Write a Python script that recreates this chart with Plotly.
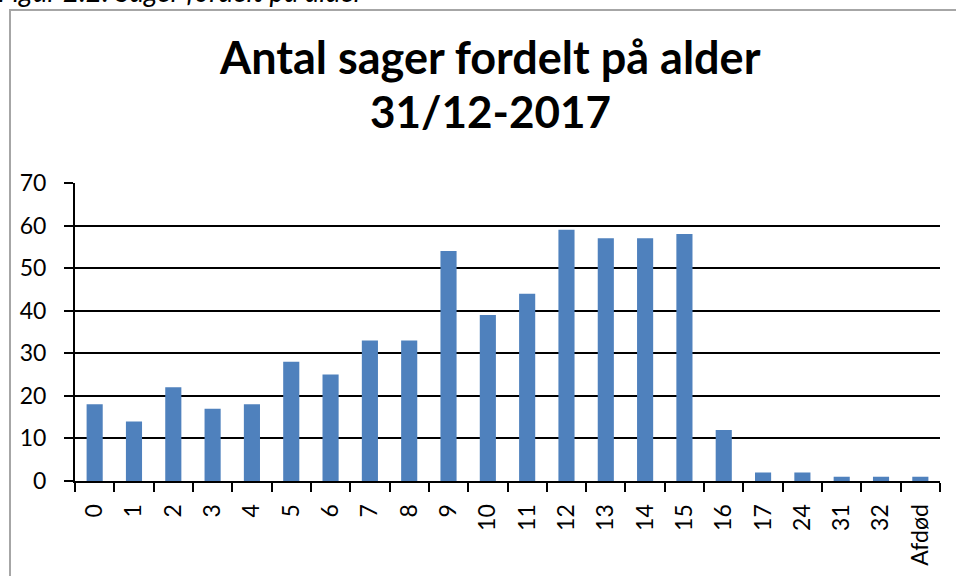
import plotly.graph_objects as go

categories = ["0", "1", "2", "3", "4", "5", "6", "7", "8", "9", "10", "11", "12", "13", "14", "15", "16", "17", "24", "31", "32", "Afdød"]
values = [18, 14, 22, 17, 18, 28, 25, 33, 33, 54, 39, 44, 59, 57, 57, 58, 12, 2, 2, 1, 1, 1]
y_ticks = [0, 10, 20, 30, 40, 50, 60, 70]

W, H = 956, 576
L, R, T, B = 75, 16, 183, 95
pw, ph = W - L - R, H - T - B

def px(x):
    return (x - L) / pw

def py(y):
    return (H - B - y) / ph

fig = go.Figure(go.Bar(x=categories, y=values, marker=dict(color="#4f81bd", line=dict(width=0)),
                       width=0.41))

font = "Lato, 'Open Sans', sans-serif"
fig.update_layout(
    width=W, height=H,
    margin=dict(l=L, r=R, t=T, b=B, autoexpand=False),
    paper_bgcolor="white", plot_bgcolor="white",
    showlegend=False,
    font=dict(family=font, color="black", size=23),
    xaxis=dict(type="category", tickson="boundaries", ticks="outside", ticklen=9, tickwidth=2,
               tickcolor="black", showline=True, linecolor="black", linewidth=2,
               tickangle=-90, tickfont=dict(size=23, family=font), showgrid=False,
               ticklabelstandoff=12),
    yaxis=dict(range=[0, 70], tickvals=y_ticks, ticks="outside", ticklen=9, tickwidth=2,
               tickcolor="black", showline=True, linecolor="black", linewidth=2,
               showgrid=True, gridcolor="black", gridwidth=2, zeroline=False,
               tickfont=dict(size=23, family=font), ticklabelstandoff=13),
    shapes=[dict(type="rect", xref="paper", yref="paper",
                 x0=px(10), x1=px(W + 20), y0=py(H + 20), y1=py(10),
                 line=dict(color="#a6a6a6", width=2), layer="below")],
    annotations=[
        dict(text="<i>Figur 2.2: Sager fordelt på alder</i>", xref="paper", yref="paper",
             x=px(-4), y=py(10), xanchor="left", yanchor="bottom", showarrow=False,
             font=dict(size=28, family=font, color="black")),
        dict(text="<b>Antal sager fordelt på alder</b>", xref="paper", yref="paper",
             x=px(490), y=py(57), xanchor="center", yanchor="middle", showarrow=False,
             font=dict(size=45, family=font, color="black")),
        dict(text="<b>31/12-2017</b>", xref="paper", yref="paper",
             x=px(490), y=py(111), xanchor="center", yanchor="middle", showarrow=False,
             font=dict(size=44, family=font, color="black")),
    ],
)

fig.write_html("out.html", config={"displayModeBar": False},
               post_script="document.body.style.margin='0';document.body.style.overflow='hidden';")
